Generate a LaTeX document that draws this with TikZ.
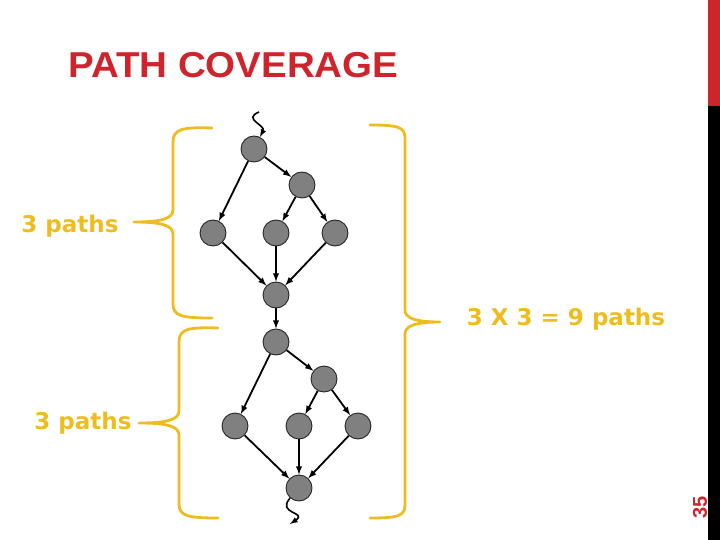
\documentclass[tikz,border=0pt]{standalone}
\usepackage{fontspec}
\setmainfont{Liberation Sans}
\newfontfamily\labelfont{DejaVu Sans}
\definecolor{titlered}{RGB}{206,36,44}
\definecolor{bracegold}{RGB}{238,188,30}
\definecolor{nodegray}{RGB}{128,128,128}
\tikzset{
  vertex/.style={circle, draw=black!85, fill=nodegray, line width=0.9pt, minimum size=26pt, inner sep=0pt},
  flow/.style={->, >=latex, line width=1.8pt},
  bracket/.style={draw=bracegold, line width=2.8pt, line join=round, line cap=round},
  pathlabel/.style={text=bracegold, font=\labelfont\bfseries\fontsize{23}{26}\selectfont}
}

\begin{document}
\begin{tikzpicture}[x=1pt, y=-1pt]
  \useasboundingbox (0,0) rectangle (720,540);

  % side bar and slide number
  \fill[titlered] (708,0) rectangle (720,106);
  \fill[black] (708,106) rectangle (720,540);
  \node[rotate=90, text=titlered, font=\bfseries\fontsize{20}{22}\selectfont] (pagenum) at (700,507) {35};

  % title
  \node[anchor=west, text=titlered, font=\bfseries\fontsize{36}{40}\selectfont, inner sep=0pt] (title) at (68,65)
    {\scalebox{1.07}[1]{PATH COVERAGE}};

  % first block
  \node[vertex] (a1) at (254,149) {};
  \node[vertex] (b1) at (302,185) {};
  \node[vertex] (c1) at (213,233) {};
  \node[vertex] (d1) at (276,233) {};
  \node[vertex] (e1) at (335,233) {};
  \node[vertex] (f1) at (276,295) {};
  % second block
  \node[vertex] (a2) at (276,342) {};
  \node[vertex] (b2) at (324,379) {};
  \node[vertex] (c2) at (235,426) {};
  \node[vertex] (d2) at (299,426) {};
  \node[vertex] (e2) at (358,426) {};
  \node[vertex] (f2) at (299,488) {};

  \foreach \s in {1,2}
  {
    \foreach \u/\v in {a/c, a/b, b/d, b/e, c/f, d/f, e/f}
      \draw[flow] (\u\s) -- (\v\s);
  }
  \draw[flow] (f1) -- (a2);

  % entry and exit
  \coordinate (entry) at (259,112);
  \coordinate (exit) at (290,524);
  \draw[flow, line width=1.6pt] (entry) .. controls (242,119) and (266,125) .. (a1);
  \draw[flow, line width=1.6pt] (f2) .. controls (276,514) and (308,512) .. (exit);

  % braces
  \draw[bracket] (212,128) .. controls (182,127) and (173,129) .. (173,142) -- (173,210)
    .. controls (173,219) and (160,222) .. (134,222)
    .. controls (160,222) and (173,225) .. (173,234) -- (173,304)
    .. controls (173,316) and (182,318) .. (212,318);
  \draw[bracket] (218,328) .. controls (188,327) and (179,329) .. (179,342) -- (179,411)
    .. controls (179,420) and (166,423) .. (139,423)
    .. controls (166,423) and (179,426) .. (179,435) -- (179,504)
    .. controls (179,516) and (188,518) .. (218,518);
  \draw[bracket] (370,125) .. controls (398,125) and (405,127) .. (405,138) -- (405,310)
    .. controls (405,318) and (415,322) .. (440,322)
    .. controls (415,322) and (405,326) .. (405,334) -- (405,505)
    .. controls (405,516) and (398,518) .. (370,518);

  % labels
  \node[pathlabel] (paths1) at (70,226) {3 paths};
  \node[pathlabel] (paths2) at (83,423) {3 paths};
  \node[pathlabel] (total) at (566,319) {3 X 3 = 9 paths};
\end{tikzpicture}
\end{document}
